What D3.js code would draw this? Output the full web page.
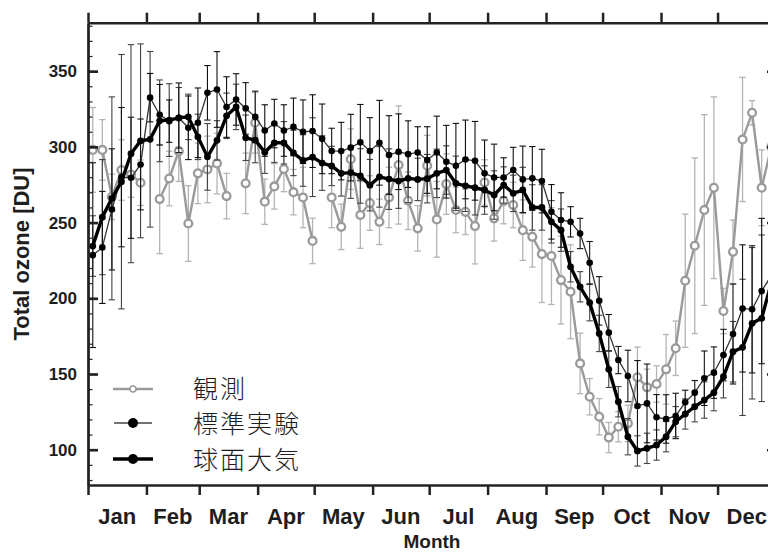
<!DOCTYPE html>
<html>
<head>
<meta charset="utf-8">
<script src="https://cdn.jsdelivr.net/npm/d3@7"></script>
<style>
  body { margin: 0; background: #fff; }
  svg { display: block; }
  .lbl { font-family: "Liberation Sans", Arial, sans-serif; font-weight: bold; fill: #1e1e1e; }
  .leg { font-family: "Noto Sans CJK JP", sans-serif; font-weight: 300; fill: #1e1e1e; }
</style>
</head>
<body>
<svg id="chart" width="768" height="553"></svg>
<script>
// months and their first day of year
var months = ['Jan', 'Feb', 'Mar', 'Apr', 'May', 'Jun', 'Jul', 'Aug', 'Sep', 'Oct', 'Nov', 'Dec'];
var monthStart = [0, 31, 59, 90, 120, 151, 181, 212, 243, 273, 304, 334, 365];
var majorTicks = [100, 150, 200, 250, 300, 350];
var minorTicks = [80, 90, 110, 120, 130, 140, 160, 170, 180, 190, 210, 220, 230, 240, 260, 270, 280, 290, 310, 320, 330, 340, 360, 370, 380];

// 72 bins per year (about 5 days each)
var obs = [298, 298, 267, 284.7, 281.7, 276.3, null, 265.5, 279.1, 297.2,
  249.4, 282.5, 285.1, 289, 267.5, null, 275.9, 315.9, 263.8, 273.9,
  285.4, 270.1, 266.6, 237.9, null, 266.6, 247.2, 291.9, 255, 262.9,
  250.5, 266.6, 288, 264.4, 246.2, 287.6, 252.1, 275.4, 258.3, 257.1,
  247.7, 276.5, 252.8, 264.2, 261.6, 245, 240.6, 229.2, 227.9, 212,
  204.3, 157, 135, 121.8, 108, 115.2, 117.4, 147.8, 141.2, 143.4,
  153.1, 167, 211.6, 234.7, 258.3, 273, 191.6, 230.7, 304.9, 322.5,
  273, 300];
var obsSd = [28, 20, 15, 20, 15, 15, null, 36, 18, 20,
  25, 20, 22, 20, 15, null, 20, 20, 15, 15,
  15, 15, 20, 15, null, 20, 15, 20, 22, 18,
  15, 20, 39, 19, 15, 20, 25, 20, 15, 15,
  25, 15, 15, 15, 15, 20, 20, 32, 32, 29,
  31, 20, 12, 12, 10, 10, 12, 20, 12, 12,
  23, 18, 44, 58, 63, 60, 15, 21, 41, 8,
  25, 25];

var std = [228.5, 233.6, 258.7, 280, 279.6, 288.4, 332.5, 321.2, 317, 319.2,
  312.6, 315.9, 335.7, 337.9, 326.3, 331.3, 325.4, 319.8, 310.8, 315.4,
  310.8, 313.2, 310, 310.4, 305.3, 297.3, 297.2, 299.5, 303, 297.3,
  302.7, 294.6, 296.8, 295.2, 296.3, 291.3, 296.3, 290.2, 287.5, 291.7,
  290.8, 282.5, 279.8, 279.8, 284.7, 278.5, 279.2, 277.4, 257.1, 251.7,
  250.5, 242.8, 223.5, 198.3, 177.3, 159.2, 148.7, 128.9, 130.6, 121.4,
  120.3, 122.3, 131.3, 137.7, 147.2, 150.9, 162.5, 176.4, 193.3, 192.7,
  204.8, 215];
var stdSd = [61, 37, 40, 46, 40, 30, 16, 20, 14, 23,
  21, 23, 18, 25, 20, 17, 17, 17, 17, 16,
  17, 19, 21, 24, 23, 15, 19, 22, 25, 22,
  28, 26, 25, 22, 17, 22, 24, 24, 28, 26,
  26, 22, 22, 13, 15, 22, 21, 21, 18, 18,
  10, 10, 14, 16, 12, 9, 17, 30, 26, 15,
  16, 15, 8, 8, 18, 17, 17, 33, 42, 42,
  48, 45];

var sph = [234.5, 253.6, 266, 277, 295.5, 304, 305, 317.2, 317.7, 319.2,
  319.8, 306.6, 293.4, 304.3, 320.5, 326.4, 306, 304.5, 296.5, 302.7,
  302.7, 296, 291, 293.2, 289.3, 287.4, 282.5, 283, 280.8, 274.7,
  280.2, 278.7, 277.4, 279.2, 278.5, 279, 282.5, 284.7, 275.9, 274.3,
  273, 271.5, 268.2, 274.8, 269.3, 271.5, 260, 260, 250.5, 245,
  220.8, 207.6, 197.1, 176.8, 153.1, 131.7, 108.6, 99.2, 100.9, 103.1,
  108.6, 118.5, 123.6, 128.4, 132.8, 137.7, 148.2, 164.7, 167.6, 183.5,
  186.8, 210];
var sphSd = [20, 38, 67, 84, 72, 64, 58, 27, 24, 20,
  15, 15, 22, 13, 15, 15, 15, 15, 14, 13,
  14, 15, 17, 26, 18, 13, 15, 17, 18, 17,
  20, 20, 18, 16, 14, 16, 16, 16, 18, 17,
  18, 16, 16, 12, 12, 15, 15, 15, 14, 14,
  10, 10, 12, 12, 12, 10, 12, 10, 10, 10,
  10, 10, 10, 10, 12, 12, 14, 20, 45, 50,
  55, 55];

var legendNames = ['観測', '標準実験', '球面大気'];

var nBins = 72;
var svg = d3.select('#chart');

var x = d3.scaleLinear().domain([0, 365]).range([88, 776]);
var y = d3.scaleLinear().domain([76.7, 382]).range([485, 22.7]);
function binX(i) { return x((i + 0.5) * 365 / nBins); }

function rows(vals, sds) {
  return vals.map(function (v, i) { return { i: i, v: v, sd: sds[i] }; });
}

// error bars
function errorBars(data, color, width) {
  var g = svg.append('g').attr('stroke', color).attr('stroke-width', width).attr('fill', 'none');
  data.filter(d => d.v != null && d.sd != null).forEach(function (d) {
    var cx = binX(d.i), y1 = y(d.v + d.sd), y2 = y(d.v - d.sd);
    g.append('line').attr('x1', cx).attr('x2', cx).attr('y1', y1).attr('y2', y2);
    g.append('line').attr('x1', cx - 3.2).attr('x2', cx + 3.2).attr('y1', y1).attr('y2', y1);
    g.append('line').attr('x1', cx - 3.2).attr('x2', cx + 3.2).attr('y1', y2).attr('y2', y2);
  });
}

var obsRows = rows(obs, obsSd);
var stdRows = rows(std, stdSd);
var sphRows = rows(sph, sphSd);

var line = d3.line()
  .defined(d => d.v != null)
  .x(d => binX(d.i))
  .y(d => y(d.v));

// observation
errorBars(obsRows, '#b4b4b4', 1.3);
svg.append('path').datum(obsRows)
  .attr('d', line)
  .style('fill', 'none').style('stroke', '#9a9a9a').style('stroke-width', 2.4);
svg.append('g').selectAll('circle')
  .data(obsRows.filter(d => d.v != null))
  .enter().append('circle')
  .attr('cx', d => binX(d.i)).attr('cy', d => y(d.v)).attr('r', 3.9)
  .style('fill', '#fff').style('stroke', '#9a9a9a').style('stroke-width', 2.3);

// model runs
errorBars(sphRows, '#444', 1.1);
errorBars(stdRows, '#111', 1.1);

svg.append('path').datum(stdRows)
  .attr('d', line)
  .style('fill', 'none').style('stroke', '#333').style('stroke-width', 1.3);
svg.append('g').selectAll('circle')
  .data(stdRows)
  .enter().append('circle')
  .attr('cx', d => binX(d.i)).attr('cy', d => y(d.v)).attr('r', 3.3)
  .style('fill', '#000');

svg.append('path').datum(sphRows)
  .attr('d', line)
  .style('fill', 'none').style('stroke', '#000').style('stroke-width', 3.4)
  .style('stroke-linejoin', 'round');
svg.append('g').selectAll('circle')
  .data(sphRows)
  .enter().append('circle')
  .attr('cx', d => binX(d.i)).attr('cy', d => y(d.v)).attr('r', 3.4)
  .style('fill', '#000');

// frame and axes
function styleAxis(g, w) {
  g.select('.domain').attr('stroke', '#222').attr('stroke-width', w);
  g.selectAll('.tick line').attr('stroke', '#222').attr('stroke-width', w);
}

var topAxis = svg.append('g').attr('transform', 'translate(0,' + y.range()[1] + ')')
  .call(d3.axisTop(x).tickValues(monthStart).tickSizeInner(10).tickSizeOuter(0).tickFormat(''));
styleAxis(topAxis, 2.5);

var bottomAxis = svg.append('g').attr('transform', 'translate(0,' + y.range()[0] + ')')
  .call(d3.axisBottom(x).tickValues(monthStart).tickSizeInner(10).tickSizeOuter(0).tickFormat(''));
styleAxis(bottomAxis, 2.5);

var leftMinor = svg.append('g').attr('transform', 'translate(' + x(0) + ',0)')
  .call(d3.axisLeft(y).tickValues(minorTicks).tickSizeInner(-4.5).tickSizeOuter(0).tickFormat(''));
styleAxis(leftMinor, 1.2);

var leftAxis = svg.append('g').attr('transform', 'translate(' + x(0) + ',0)')
  .call(d3.axisLeft(y).tickValues(majorTicks).tickSizeInner(-10).tickSizeOuter(0).tickPadding(11));
styleAxis(leftAxis, 2.7);
leftAxis.selectAll('text')
  .attr('class', 'lbl')
  .style('font-size', '17px')
  .attr('fill', '#1e1e1e');

var rightAxis = svg.append('g').attr('transform', 'translate(' + x(365) + ',0)')
  .call(d3.axisRight(y).tickValues(majorTicks).tickSizeInner(-9).tickSizeOuter(0).tickFormat(''));
styleAxis(rightAxis, 2.5);

// month labels
svg.append('g').selectAll('text')
  .data(months)
  .enter().append('text')
  .attr('class', 'lbl')
  .attr('x', (d, i) => x((monthStart[i] + monthStart[i + 1]) / 2))
  .attr('y', 524)
  .attr('text-anchor', 'middle')
  .style('font-size', '22px')
  .text(d => d);

svg.append('text')
  .attr('class', 'lbl')
  .attr('x', x(182.5))
  .attr('y', 548)
  .attr('text-anchor', 'middle')
  .style('font-size', '19px')
  .text('Month');

svg.append('text')
  .attr('class', 'lbl')
  .attr('transform', 'rotate(-90)')
  .attr('x', -254)
  .attr('y', 29)
  .attr('text-anchor', 'middle')
  .style('font-size', '22px')
  .text('Total ozone [DU]');

// legend
var legY = [387, 422, 458];
var leg = svg.append('g');
leg.append('line').attr('x1', 113).attr('x2', 153).attr('y1', legY[0] + 2).attr('y2', legY[0] + 2)
  .style('stroke', '#9a9a9a').style('stroke-width', 2.4);
leg.append('circle').attr('cx', 133).attr('cy', legY[0] + 2).attr('r', 3)
  .style('fill', '#fff').style('stroke', '#9a9a9a').style('stroke-width', 1.5);
leg.append('line').attr('x1', 114).attr('x2', 152).attr('y1', legY[1] + 1).attr('y2', legY[1] + 1)
  .style('stroke', '#444').style('stroke-width', 1.3);
leg.append('circle').attr('cx', 133).attr('cy', legY[1] + 1).attr('r', 5).style('fill', '#000');
leg.append('line').attr('x1', 113).attr('x2', 153).attr('y1', legY[2] + 1).attr('y2', legY[2] + 1)
  .style('stroke', '#000').style('stroke-width', 3.6);
leg.append('circle').attr('cx', 133).attr('cy', legY[2] + 1).attr('r', 5).style('fill', '#000');

leg.selectAll('text.leg')
  .data(legendNames)
  .enter().append('text')
  .attr('class', 'leg')
  .attr('x', 193)
  .attr('y', (d, i) => legY[i])
  .attr('dominant-baseline', 'central')
  .style('font-size', '25px')
  .style('letter-spacing', '2px')
  .text(d => d);
</script>
</body>
</html>
